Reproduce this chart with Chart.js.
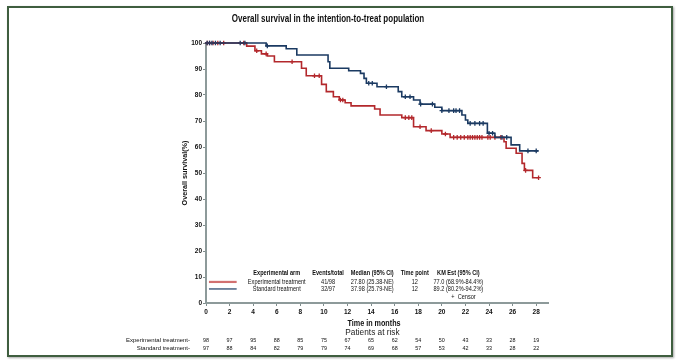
<!DOCTYPE html>
<html>
<head>
<meta charset="utf-8">
<script src="https://cdn.jsdelivr.net/npm/chart.js@4.4.1/dist/chart.umd.min.js"></script>
<style>
  html, body { margin: 0; padding: 0; background: #fff; }
  #wrap { position: relative; width: 678px; height: 361px; }
  #frame { position: absolute; left: 7px; top: 6px; width: 666px; height: 351px; box-sizing: border-box;
           border: 2px solid #3f5e3f; box-shadow: 1px 1px 2px rgba(0,0,0,0.35); pointer-events: none; }
  canvas { position: absolute; left: 0; top: 0; }
</style>
</head>
<body>
<div id="wrap">
  <canvas id="km" width="678" height="361"></canvas>
  <div id="frame"></div>
</div>
<script>
// Kaplan-Meier steps (time in months, survival %)
const expTimes = [0, 3.45, 4.15, 4.7, 5.2, 5.8, 8.1, 8.5, 9.8, 10.2, 10.8, 11.3, 11.8, 12.3, 14.3, 14.76, 16.6, 17.6, 18.66, 20.0, 20.7, 25.27, 25.45, 26.3, 26.8, 27.0, 27.7, 28.2];
const expSurv  = [100, 98.8, 97.0, 95.8, 95.0, 92.8, 90.3, 87.4, 84.1, 81.3, 79.3, 78.1, 77.0, 75.8, 74.6, 72.3, 71.3, 67.8, 66.3, 65.0, 63.7, 62.0, 59.5, 57.6, 53.7, 51.0, 48.2, 48.2];
const stdTimes = [0, 5.1, 6.8, 7.7, 10.35, 10.5, 12.1, 13.1, 13.4, 13.6, 14.5, 16.3, 16.6, 17.6, 18.15, 19.4, 20.0, 21.7, 22.0, 22.2, 23.86, 24.5, 25.87, 26.6, 28.2];
const stdSurv  = [100, 98.9, 97.8, 95.4, 92.8, 90.3, 89.3, 88.3, 86.4, 84.5, 83.2, 81.3, 79.3, 78.1, 76.5, 75.3, 74.0, 72.3, 70.4, 69.1, 65.3, 63.7, 60.8, 58.5, 58.5];

// censor times
const expCensor = [0.1, 0.3, 0.6, 1.0, 1.5, 3.2, 4.3, 5.1, 7.3, 9.2, 9.6, 11.4, 11.6, 16.9, 17.2, 17.45, 18.15, 19.1, 20.3, 21.0, 21.3, 21.6, 21.9, 22.2, 22.4, 22.6, 22.8, 23.0, 23.2, 23.4, 23.9, 24.1, 24.5, 25.0, 27.1, 28.2];
const stdCensor = [0.1, 0.3, 0.5, 0.8, 1.2, 2.9, 3.3, 5.2, 13.8, 14.1, 15.3, 16.9, 17.3, 18.2, 19.2, 20.0, 20.6, 21.0, 21.2, 21.5, 22.4, 22.8, 23.2, 23.5, 24.0, 24.3, 25.1, 25.5, 27.3, 28.0];

// patients at risk
const riskTimes = [0, 2, 4, 6, 8, 10, 12, 14, 16, 18, 20, 22, 24, 26, 28];
const riskExp = [98, 97, 95, 88, 85, 75, 67, 65, 62, 54, 50, 43, 33, 28, 19];
const riskStd = [97, 88, 84, 82, 79, 79, 74, 69, 68, 57, 53, 42, 33, 28, 22];

// legend table
const legendHeader = ['Experimental arm', 'Events/total', 'Median (95% CI)', 'Time point', 'KM Est (95% CI)'];
const legendExp = ['Experimental treatment', '41/98', '27.80 (25.38-NE)', '12', '77.0 (68.9%-84.4%)'];
const legendStd = ['Standard treatment', '32/97', '37.98 (25.79-NE)', '12', '89.2 (80.2%-94.2%)'];

const RED = '#b3282c';
const BLUE = '#1b3a62';
const FONT = '"Liberation Sans Narrow", "Arial Narrow", "Liberation Sans", Arial, sans-serif';

const toPoints = (t, s) => t.map((x, i) => ({ x: x, y: s[i] }));
const survAt = (t, s, x) => {
  let v = s[0];
  for (let i = 0; i < t.length; i++) { if (t[i] <= x) v = s[i]; }
  return v;
};
const censorPoints = (c, t, s) => c.map(x => ({ x: x, y: survAt(t, s, x) }));

// narrow-looking text: squeeze horizontally
function narrowText(ctx, str, x, y, align, sx, rot) {
  ctx.save();
  ctx.translate(x, y);
  if (rot) ctx.rotate(rot);
  ctx.scale(sx, 1);
  ctx.textAlign = align;
  ctx.fillText(str, 0, 0);
  ctx.restore();
}

Chart.defaults.font.family = FONT;
Chart.defaults.color = '#1a1a2e';

const tablePlugin = {
  id: 'tables',
  afterDraw(chart) {
    const ctx = chart.ctx;
    const xs = chart.scales.x;
    const ys = chart.scales.y;
    const ca = chart.chartArea;
    ctx.save();
    ctx.fillStyle = '#111';
    ctx.textBaseline = 'middle';

    // title
    ctx.font = 'bold 10px ' + FONT;
    narrowText(ctx, 'Overall survival in the intention-to-treat population', 328, 19, 'center', 0.8);

    // axis titles
    ctx.font = 'bold 9px ' + FONT;
    narrowText(ctx, 'Time in months', (ca.left + ca.right) / 2 - 3, 324, 'center', 0.8);
    ctx.font = 'bold 8px ' + FONT;
    narrowText(ctx, 'Overall survival(%)', 185, (ca.top + ca.bottom) / 2, 'center', 0.9, -Math.PI / 2);

    // legend table inside the plot
    const cols = [6.0, 10.35, 14.1, 17.7, 21.4];
    const rows = [11.5, 8.1, 5.4];
    [legendHeader, legendExp, legendStd].forEach((row, r) => {
      ctx.font = (r === 0 ? 'bold ' : '') + '6.5px ' + FONT;
      row.forEach((txt, c) => {
        narrowText(ctx, txt, xs.getPixelForValue(cols[c]), ys.getPixelForValue(rows[r]), 'center', 0.86);
      });
    });
    ctx.lineWidth = 2.2;
    ctx.strokeStyle = '#d27070';
    ctx.beginPath();
    ctx.moveTo(xs.getPixelForValue(0.25), ys.getPixelForValue(rows[1]));
    ctx.lineTo(xs.getPixelForValue(2.6), ys.getPixelForValue(rows[1]));
    ctx.stroke();
    ctx.lineWidth = 1.2;
    ctx.strokeStyle = BLUE;
    ctx.beginPath();
    ctx.moveTo(xs.getPixelForValue(0.25), ys.getPixelForValue(rows[2]));
    ctx.lineTo(xs.getPixelForValue(2.6), ys.getPixelForValue(rows[2]));
    ctx.stroke();
    ctx.font = '6.5px ' + FONT;
    narrowText(ctx, '+  Censor', xs.getPixelForValue(20.8), ys.getPixelForValue(2.3), 'left', 0.86);

    // patients at risk
    ctx.font = '9px ' + FONT;
    ctx.fillStyle = '#222';
    narrowText(ctx, 'Patients at risk', (ca.left + ca.right) / 2 - 4.5, 333, 'center', 0.92);
    ctx.font = '6px ' + FONT;
    ctx.fillStyle = '#111';
    riskTimes.forEach((t, i) => {
      const px = xs.getPixelForValue(t);
      narrowText(ctx, String(riskExp[i]), px, 340.7, 'center', 0.9);
      narrowText(ctx, String(riskStd[i]), px, 348.5, 'center', 0.9);
    });
    narrowText(ctx, 'Experimental treatment-', 190, 340.7, 'right', 1);
    narrowText(ctx, 'Standard treatment-', 190, 348.5, 'right', 1);
    ctx.restore();
  }
};

new Chart(document.getElementById('km'), {
  type: 'line',
  data: {
    datasets: [
      {
        label: 'Standard treatment',
        data: toPoints(stdTimes, stdSurv),
        stepped: 'before',
        borderColor: BLUE,
        borderWidth: 1.6,
        pointRadius: 0,
        fill: false,
      },
      {
        label: 'Experimental treatment',
        data: toPoints(expTimes, expSurv),
        stepped: 'before',
        borderColor: RED,
        borderWidth: 1.6,
        pointRadius: 0,
        fill: false,
      },
      {
        label: 'Standard censor',
        data: censorPoints(stdCensor, stdTimes, stdSurv),
        showLine: false,
        pointStyle: 'cross',
        pointRadius: 2.3,
        pointBorderWidth: 1.3,
        borderColor: BLUE,
      },
      {
        label: 'Experimental censor',
        data: censorPoints(expCensor, expTimes, expSurv),
        showLine: false,
        pointStyle: 'cross',
        pointRadius: 2.3,
        pointBorderWidth: 1.3,
        borderColor: RED,
      },
    ],
  },
  options: {
    responsive: false,
    animation: false,
    clip: false,
    layout: { padding: { left: 176, right: 130, top: 43, bottom: 28 } },
    plugins: {
      legend: { display: false },
      tooltip: { enabled: false },
      title: { display: false },
    },
    scales: {
      x: {
        type: 'linear',
        min: 0,
        max: 29,
        afterFit: (s) => { s.height = 30; },
        ticks: { stepSize: 2, includeBounds: false, padding: 2, font: { size: 6.5, weight: 'bold' }, color: '#111' },
        grid: { drawOnChartArea: false, drawTicks: true, tickLength: 3, color: '#7f8c8c', lineWidth: 1 },
        border: { display: true, color: '#8d9a9a', width: 2 },
        title: { display: false },
      },
      y: {
        type: 'linear',
        min: 0,
        max: 100,
        afterFit: (s) => { s.width = 30; },
        ticks: { stepSize: 10, padding: 1, font: { size: 6.5, weight: 'bold' }, color: '#111' },
        grid: { drawOnChartArea: false, drawTicks: true, tickLength: 3, color: '#7f8c8c', lineWidth: 1 },
        border: { display: true, color: '#8d9a9a', width: 2 },
        title: { display: false },
      },
    },
  },
  plugins: [tablePlugin],
});
</script>
</body>
</html>
